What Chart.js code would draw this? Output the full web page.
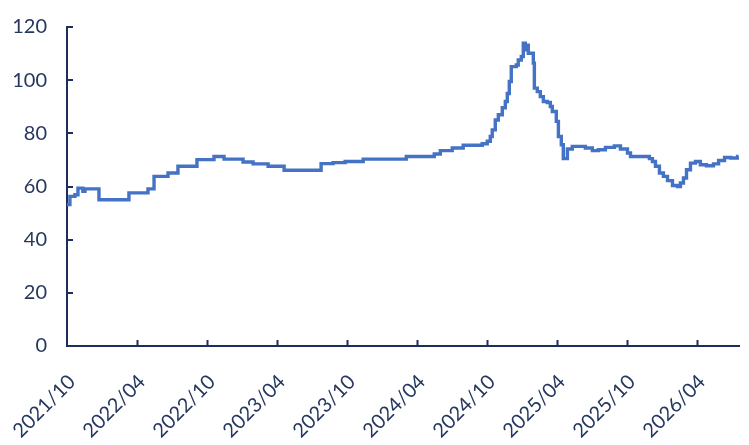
<!DOCTYPE html>
<html>
<head>
<meta charset="utf-8">
<script src="https://cdn.jsdelivr.net/npm/chart.js@4/dist/chart.umd.min.js"></script>
<style>
html,body{margin:0;padding:0;background:#fff;}
#wrap{width:749px;height:445px;}
</style>
</head>
<body>
<div id="wrap"><canvas id="c" width="749" height="445"></canvas></div>
<script>
// x positions are months since 2021/10 (where each step begins)
const monthOffsets = [0.00,0.25,0.68,0.94,1.36,1.54,2.74,5.31,6.94,7.46,8.66,9.51,11.14,12.60,13.46,15.09,15.95,17.24,18.61,21.78,22.81,23.84,25.39,29.08,31.48,32.00,33.02,33.96,35.59,36.02,36.28,36.45,36.71,36.97,37.31,37.57,37.74,37.91,38.08,38.51,38.68,38.94,39.11,39.28,39.45,39.54,39.97,40.06,40.31,40.57,40.83,41.17,41.43,41.60,41.94,42.12,42.37,42.54,42.89,43.31,44.43,45.03,45.55,46.15,46.92,47.44,48.04,48.30,49.92,50.18,50.44,50.78,51.12,51.47,51.90,52.33,52.58,52.84,53.10,53.44,53.87,54.29,54.81,55.41,55.85,56.36,56.88,57.48,57.56];
const values = [53.2,56.3,56.9,59.4,58.2,59.1,55.0,57.6,59.1,63.8,65.1,67.6,70.1,71.3,70.3,69.2,68.5,67.6,66.1,68.6,69.0,69.4,70.3,71.3,72.2,73.5,74.5,75.5,76.1,77.0,78.8,81.3,85.0,87.0,89.6,92.0,95.0,99.5,105.1,105.7,107.6,108.9,113.9,111.4,113.2,110.1,106.4,97.0,95.7,93.8,92.0,91.6,90.1,88.2,84.5,78.8,75.7,70.5,74.1,75.1,74.5,73.5,73.8,74.7,75.3,74.1,72.6,71.3,70.5,69.4,67.6,65.1,63.8,62.2,60.4,60.0,61.3,63.2,66.3,68.8,69.4,68.2,67.8,68.5,69.8,70.9,70.7,71.3,71.3];
const tickMonths = [0,6,12,18,24,30,36,42,48,54];
const tickLabels = ['2021/10','2022/04','2022/10','2023/04','2023/10','2024/04','2024/10','2025/04','2025/10','2026/04'];
const yTicks = [0,20,40,60,80,100,120];

const axisColor = '#1f2d5c';
const textColor = '#26375f';
const fontFamily = 'Lato, "Open Sans", sans-serif';

const innerTicks = {
  id: 'innerTicks',
  afterDraw(chart) {
    const ctx = chart.ctx;
    const xs = chart.scales.x, ys = chart.scales.y;
    const area = chart.chartArea;
    ctx.save();
    ctx.strokeStyle = axisColor;
    ctx.lineWidth = 2;
    ctx.beginPath();
    tickMonths.forEach(v => {
      if (v === 0) return;
      const px = Math.round(xs.getPixelForValue(v)) + 0.5;
      ctx.moveTo(px, area.bottom);
      ctx.lineTo(px, area.bottom - 6);
    });
    yTicks.forEach(v => {
      if (v === 0) return;
      const py = Math.round(ys.getPixelForValue(v));
      ctx.moveTo(area.left, py);
      ctx.lineTo(area.left + 6, py);
    });
    ctx.stroke();
    ctx.restore();
  }
};

new Chart(document.getElementById('c'), {
  type: 'line',
  data: {
    datasets: [{
      data: monthOffsets.map((m, i) => ({x: m, y: values[i]})),
      borderColor: '#4472c4',
      borderWidth: 3.4,
      pointRadius: 0,
      stepped: 'before',
      fill: false
    }]
  },
  options: {
    responsive: false,
    animation: false,
    layout: {padding: {top: 27, right: 10, left: 0, bottom: 0}},
    plugins: {legend: {display: false}, tooltip: {enabled: false}},
    scales: {
      x: {
        type: 'linear',
        min: 0,
        max: 57.6,
        afterBuildTicks(scale) { scale.ticks = tickMonths.map(v => ({value: v})); },
        afterFit(scale) { scale.height = 99; scale.paddingLeft = 0; scale.paddingRight = 0; },
        grid: {display: false, drawTicks: false},
        border: {display: true, color: axisColor, width: 2},
        ticks: {
          autoSkip: false,
          maxRotation: 45,
          minRotation: 45,
          padding: 24,
          labelOffset: 5,
          color: textColor,
          font: {family: fontFamily, size: 20},
          callback: (v) => tickLabels[tickMonths.indexOf(v)] || ''
        }
      },
      y: {
        min: 0,
        max: 120,
        afterBuildTicks(scale) { scale.ticks = yTicks.map(v => ({value: v})); },
        afterFit(scale) { scale.width = 67; scale.paddingTop = 0; scale.paddingBottom = 0; },
        grid: {display: false, drawTicks: false},
        border: {display: true, color: axisColor, width: 2},
        ticks: {
          padding: 20,
          color: textColor,
          font: {family: fontFamily, size: 20}
        }
      }
    }
  },
  plugins: [innerTicks]
});
</script>
</body>
</html>
